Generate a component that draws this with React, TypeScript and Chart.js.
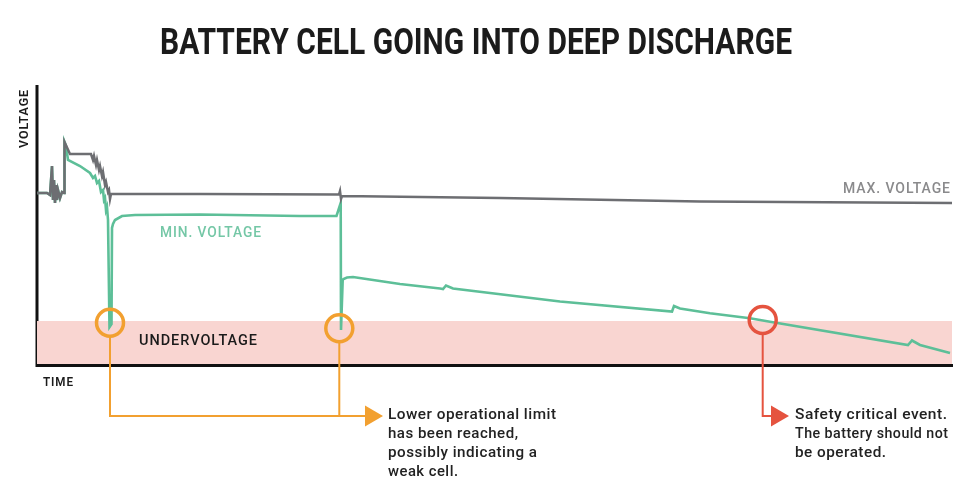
import React, { useEffect, useRef } from 'react';
import { Chart, registerables } from 'chart.js';

Chart.register(...registerables);

// time axis: 0..916 (arbitrary units), voltage axis: 0..279 (arbitrary units)
const TIME_MAX = 916;
const VOLT_MAX = 279;
const VOLT_MIN_CANVAS = -108; // room below the axis for the call-outs

const maxTime = [0, 10, 13, 15, 16, 17, 18, 19, 20, 21, 23, 25, 27, 27.5, 33, 54, 56, 57, 59, 60, 62, 63, 65, 66, 68, 69, 71, 72, 73, 74, 75, 163, 302, 303, 304, 305, 463, 663, 915];
const maxVolt = [171, 171, 169, 198, 164, 184, 161, 179, 164, 174, 166, 172, 171, 222, 210, 210, 204, 208, 199, 204, 194, 198, 188, 192, 179, 182, 172, 174, 165, 170, 170, 170, 169.5, 173, 165, 168, 166, 162.5, 161];

const minTime = [0, 10, 13, 15, 16, 17, 18, 19, 20, 21, 23, 25, 27, 27.5, 29, 31, 43, 53, 56, 58, 60, 62, 64, 66, 67, 68, 69, 70, 71, 72.5, 74.5, 75, 76, 78, 85, 98, 163, 263, 299.5, 303.7, 304, 305.7, 306.5, 310, 316, 363, 403, 406, 409, 416, 523, 635, 637, 643, 673, 713, 733, 871, 875, 883, 913];
const minVolt = [171, 171, 169, 198, 164, 184, 161, 179, 164, 174, 166, 172, 171, 222, 218, 204, 198, 191, 186, 188, 181, 183, 172, 174, 164, 166, 154, 157, 144, 37, 40, 136, 140, 144, 148, 149, 149.5, 148, 148, 161, 34, 84, 85, 86.5, 87, 80, 75.5, 75, 78.5, 75.5, 62.5, 52.5, 58, 55.5, 50.7, 45.7, 42.3, 19, 23.5, 19, 11];

const undervoltageLimit = 43;

const eventTime = [73, 302.3, 725.7];
const eventVolt = [41.3, 35.7, 44];
const calloutLevel = -52;
const orangeArrowTime = 334;
const redArrowTime = 740;

const TITLE = 'BATTERY CELL GOING INTO DEEP DISCHARGE';
const noteWeak = ['Lower operational limit', 'has been reached,', 'possibly indicating a', 'weak cell.'];
const noteSafety = ['Safety critical event.', 'The battery should not', 'be operated.'];

const GREEN = '#5dbf98';
const GRAY = '#6d6e72';
const ORANGE = '#f2a030';
const RED = '#e5533f';
const BAND = '#f9d5d1';

function pts(xs: number[], ys: number[]) {
  return xs.map((x, i) => ({ x, y: ys[i] }));
}

function fitText(ctx: CanvasRenderingContext2D, text: string, x: number, y: number, width: number, font: string, color: string, spacing = 0) {
  ctx.save();
  ctx.font = font;
  (ctx as any).letterSpacing = spacing + 'px';
  ctx.fillStyle = color;
  ctx.textAlign = 'left';
  ctx.textBaseline = 'alphabetic';
  const w = ctx.measureText(text).width - spacing;
  const s = width / w;
  ctx.translate(x, y);
  ctx.scale(s, 1);
  ctx.fillText(text, 0, 0);
  ctx.restore();
}

const weakWidths = [168, 130, 149, 70];
const safetyWidths = [152, 153, 91];

const decorPlugin = {
  id: 'decor',
  beforeDatasetsDraw(chart: any) {
    const { ctx, scales } = chart;
    const x0 = scales.x.getPixelForValue(0);
    const x1 = scales.x.getPixelForValue(TIME_MAX);
    const y0 = scales.y.getPixelForValue(0);
    const yTop = scales.y.getPixelForValue(VOLT_MAX);
    ctx.save();
    ctx.strokeStyle = '#111111';
    ctx.lineWidth = 3;
    ctx.beginPath();
    ctx.moveTo(x0, yTop);
    ctx.lineTo(x0, y0 + 1.5);
    ctx.lineTo(x1, y0 + 1.5);
    ctx.stroke();
    ctx.restore();
  },
  afterDraw(chart: any) {
    const { ctx } = chart;

    // title
    fitText(ctx, TITLE, 160, 54, 632, 'bold 36px Roboto', '#1b1b1b');

    // axis labels
    fitText(ctx, 'TIME', 43, 386, 30, '600 13px Roboto', '#1b1b1b', 1);
    ctx.save();
    ctx.translate(28, 148);
    ctx.rotate(-Math.PI / 2);
    fitText(ctx, 'VOLTAGE', 0, 0, 58, '600 13px Roboto', '#1b1b1b', 1);
    ctx.restore();

    // line labels
    fitText(ctx, 'MAX. VOLTAGE', 843, 193, 107, '500 15px Roboto', '#8a8a8c', 1);
    fitText(ctx, 'MIN. VOLTAGE', 160, 237, 101, '500 15px Roboto', '#74c7a6', 1);
    fitText(ctx, 'UNDERVOLTAGE', 139, 345, 118, '500 15px Roboto', '#1b1b1b', 1);

    // notes
    const noteFont = '500 15.5px Roboto';
    noteWeak.forEach((t, i) => fitText(ctx, t, 388, 419 + i * 19, weakWidths[i], noteFont, '#222222', 0.5));
    noteSafety.forEach((t, i) => fitText(ctx, t, 795, 419 + i * 19, safetyWidths[i], noteFont, '#222222', 0.5));
  },
};

export default function App() {
  const ref = useRef<HTMLCanvasElement | null>(null);
  useEffect(() => {
    if (!ref.current) return;
    const lineBase = { pointRadius: 0, fill: false, tension: 0, clip: false as any };
    const chart = new Chart(ref.current, {
      type: 'line',
      data: {
        datasets: [
          {
            ...lineBase,
            data: [{ x: 0, y: undervoltageLimit }, { x: 915, y: undervoltageLimit }],
            borderWidth: 0,
            borderColor: 'rgba(0,0,0,0)',
            backgroundColor: BAND,
            fill: 'origin',
            order: 10,
          },
          {
            ...lineBase,
            data: pts(minTime, minVolt),
            borderColor: GREEN,
            borderWidth: 2.6,
            order: 6,
          },
          {
            ...lineBase,
            data: pts(maxTime, maxVolt),
            borderColor: GRAY,
            borderWidth: 2.5,
            order: 5,
          },
          {
            ...lineBase,
            data: [
              { x: eventTime[0], y: eventVolt[0] - 14 },
              { x: eventTime[0], y: calloutLevel },
              { x: orangeArrowTime, y: calloutLevel },
            ],
            borderColor: ORANGE,
            borderWidth: 2,
            order: 4,
          },
          {
            ...lineBase,
            data: [
              { x: eventTime[1], y: eventVolt[1] - 14 },
              { x: eventTime[1], y: calloutLevel },
            ],
            borderColor: ORANGE,
            borderWidth: 2,
            order: 4,
          },
          {
            ...lineBase,
            data: [
              { x: eventTime[2], y: eventVolt[2] - 14 },
              { x: eventTime[2], y: calloutLevel },
              { x: redArrowTime, y: calloutLevel },
            ],
            borderColor: RED,
            borderWidth: 2,
            order: 4,
          },
          {
            type: 'scatter' as any,
            data: pts(eventTime, eventVolt),
            pointRadius: 13.5,
            pointBorderWidth: 3.5,
            pointBackgroundColor: 'rgba(0,0,0,0)',
            pointBorderColor: [ORANGE, ORANGE, RED],
            showLine: false,
            clip: false as any,
            order: 2,
          } as any,
          {
            type: 'scatter' as any,
            data: [{ x: orangeArrowTime, y: calloutLevel }, { x: redArrowTime, y: calloutLevel }],
            pointStyle: 'triangle',
            pointRotation: 90,
            rotation: 90,
            pointRadius: 12,
            pointBorderWidth: 0,
            pointBackgroundColor: [ORANGE, RED],
            pointBorderColor: [ORANGE, RED],
            showLine: false,
            clip: false as any,
            order: 1,
          } as any,
        ],
      },
      options: {
        responsive: false,
        animation: false,
        events: [],
        layout: { padding: { left: 37, right: 24, top: 85, bottom: 20 } },
        plugins: { legend: { display: false }, title: { display: false }, tooltip: { enabled: false } },
        scales: {
          x: { type: 'linear', min: 0, max: TIME_MAX, display: false },
          y: { type: 'linear', min: VOLT_MIN_CANVAS, max: VOLT_MAX, display: false },
        },
      },
      plugins: [decorPlugin],
    });
    return () => chart.destroy();
  }, []);
  return (
    <div style={{ position: 'fixed', left: 0, top: 0, width: 977, height: 492, background: '#fff' }}>
      <canvas ref={ref} width={977} height={492} />
    </div>
  );
}
